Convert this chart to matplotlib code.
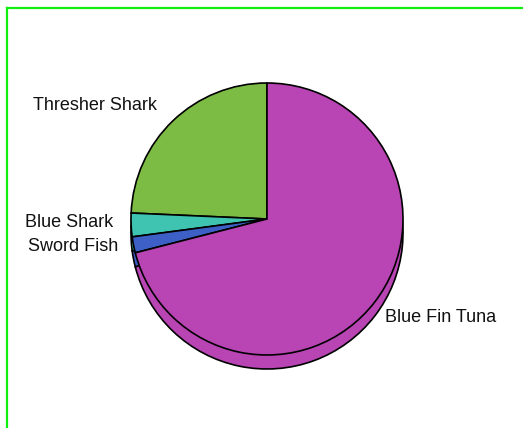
import matplotlib
matplotlib.use("Agg")
import matplotlib.pyplot as plt
from matplotlib.lines import Line2D
import numpy as np

categories = ["Thresher Shark", "Blue Shark", "Sword Fish", "Blue Fin Tuna"]
values = [24.3, 2.8, 1.9, 71.0]
colors = ["#7cbb44", "#3fc4b2", "#3d60c6", "#b944b4"]

plt.rcParams['font.family'] = ['Liberation Sans', 'DejaVu Sans']

W, H = 523, 428
fig = plt.figure(figsize=(W / 100, H / 100), dpi=100)
ax = fig.add_axes([0, 0, 1, 1])

cx, cy, r, depth = 267, H - 219, 136, 14
wp = dict(edgecolor='black', linewidth=1.2)

# depth / shadow layer
ax.pie(values, colors=colors, startangle=90, counterclock=True,
       center=(cx, cy - depth), radius=r, wedgeprops=wp, frame=True)
# top layer
ax.pie(values, colors=colors, startangle=90, counterclock=True,
       center=(cx, cy), radius=r, wedgeprops=wp, frame=True)

# labels placed near the mid-angle of each slice
total = float(sum(values))
start = 90.0
label_dist = [1.17, 1.13, 1.11, 1.123]
angle_adj = [0.0, -1.8, -1.1, -1.6]
for name, v, ld, da in zip(categories, values, label_dist, angle_adj):
    mid_deg = start + 360.0 * v / total / 2
    start += 360.0 * v / total
    mid = np.deg2rad(mid_deg + da)
    x = cx + ld * r * np.cos(mid)
    y = cy + ld * r * np.sin(mid) - 1.5
    ha = 'right' if np.cos(mid) < 0 else 'left'
    ax.text(x, y, name, ha=ha, va='center', fontsize=13, color='#111111')

ax.set_xlim(0, W)
ax.set_ylim(0, H)
ax.set_aspect('equal')
ax.axis('off')

# green frame (top and left edges)
green = '#10f010'
fig.add_artist(Line2D([6.5 / W, 1], [1 - 8 / H, 1 - 8 / H], transform=fig.transFigure,
                      color=green, linewidth=1.6))
fig.add_artist(Line2D([6.5 / W, 6.5 / W], [0, 1 - 8 / H], transform=fig.transFigure,
                      color=green, linewidth=1.6))

fig.savefig("out.png", dpi=100)
